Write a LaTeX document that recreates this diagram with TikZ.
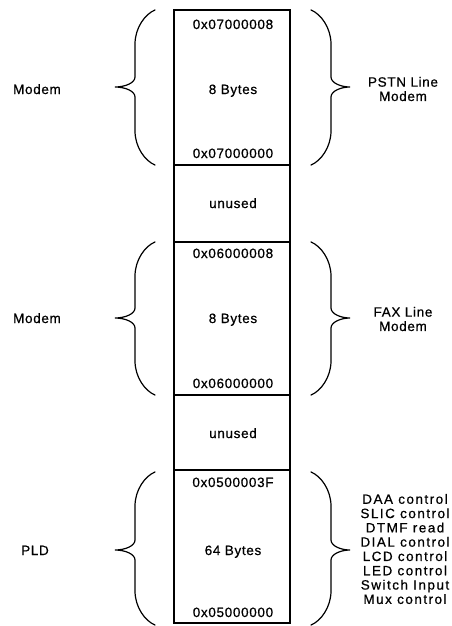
\documentclass[tikz,border=0pt]{standalone}
\usepackage{fontspec}
\setmainfont{Liberation Sans}
\newfontfamily\diafont{Liberation Sans}[LetterSpace=5, FakeBold=0.6]
\newfontfamily\listfont{Liberation Sans}[LetterSpace=11, FakeBold=0.6]
\tikzset{
  blockbox/.style={draw, line width=1.1pt, minimum width=116pt, inner sep=0pt},
  lbl/.style={font=\diafont\fontsize{13.5}{14.3}\selectfont, inner sep=0pt, text height=10pt, text depth=0pt},
  multi/.style={font=\diafont\fontsize{13.5}{14.3}\selectfont, inner sep=0pt, align=center},
  listtext/.style={font=\listfont\fontsize{13.5}{14.3}\selectfont, inner sep=0pt, align=center},
  bracepath/.style={line width=1.2pt, line cap=round},
}
\newcommand\mylbrace[3]{% top, mid, bottom (image y)
  \draw[bracepath] (155,#1) .. controls (145,#1+4) and (135,#1+18) .. (135,#1+34)
    -- (135,#2-10) .. controls (135,#2-4) and (125,#2) .. (115,#2)
    .. controls (125,#2) and (135,#2+4) .. (135,#2+10)
    -- (135,#3-34) .. controls (135,#3-18) and (145,#3-4) .. (155,#3);}
\newcommand\myrbrace[3]{%
  \draw[bracepath] (311,#1) .. controls (321,#1+4) and (331,#1+18) .. (331,#1+34)
    -- (331,#2-10) .. controls (331,#2-4) and (341,#2) .. (350,#2)
    .. controls (341,#2) and (331,#2+4) .. (331,#2+10)
    -- (331,#3-34) .. controls (331,#3-18) and (321,#3-4) .. (311,#3);}
\begin{document}
\begin{tikzpicture}[x=1pt,y=-1pt]
\useasboundingbox (0,0) rectangle (451,626);
% blocks
\node[blockbox, minimum height=155pt] (b1) at (232,87.5) {};
\node[blockbox, minimum height=77pt] (u1) at (232,203.5) {};
\node[blockbox, minimum height=153pt] (b2) at (232,318.5) {};
\node[blockbox, minimum height=75pt] (u2) at (232,432.5) {};
\node[blockbox, minimum height=153pt] (b3) at (232,546.5) {};
% block texts
\node[lbl] (a1h) at (233,24) {0x07000008};
\node[lbl] (a1s) at (233,89) {8 Bytes};
\node[lbl] (a1l) at (233,153) {0x07000000};
\node[lbl] (un1) at (233,203) {unused};
\node[lbl] (a2h) at (233,253) {0x06000008};
\node[lbl] (a2s) at (233,318) {8 Bytes};
\node[lbl] (a2l) at (233,383) {0x06000000};
\node[lbl] (un2) at (233,433) {unused};
\node[lbl] (a3h) at (233,482) {0x0500003F};
\node[lbl] (a3s) at (233,550) {64 Bytes};
\node[lbl] (a3l) at (233,612) {0x05000000};
% braces
\mylbrace{10}{87}{165}
\myrbrace{10}{87}{165}
\mylbrace{242}{318}{395}
\myrbrace{242}{318}{395}
\mylbrace{472}{550}{625}
\myrbrace{472}{550}{625}
% side labels
\node[lbl] (m1) at (37,89) {Modem};
\node[lbl] (m2) at (37,318) {Modem};
\node[lbl] (pld) at (35,550) {PLD};
\node[multi] (r1) at (403,89) {PSTN Line\\Modem};
\node[multi] (r2) at (403,319) {FAX Line\\Modem};
\node[listtext] (r3) at (405,549) {DAA control\\SLIC control\\DTMF read\\DIAL control\\LCD control\\LED control\\Switch Input\\Mux control};
\end{tikzpicture}
\end{document}
